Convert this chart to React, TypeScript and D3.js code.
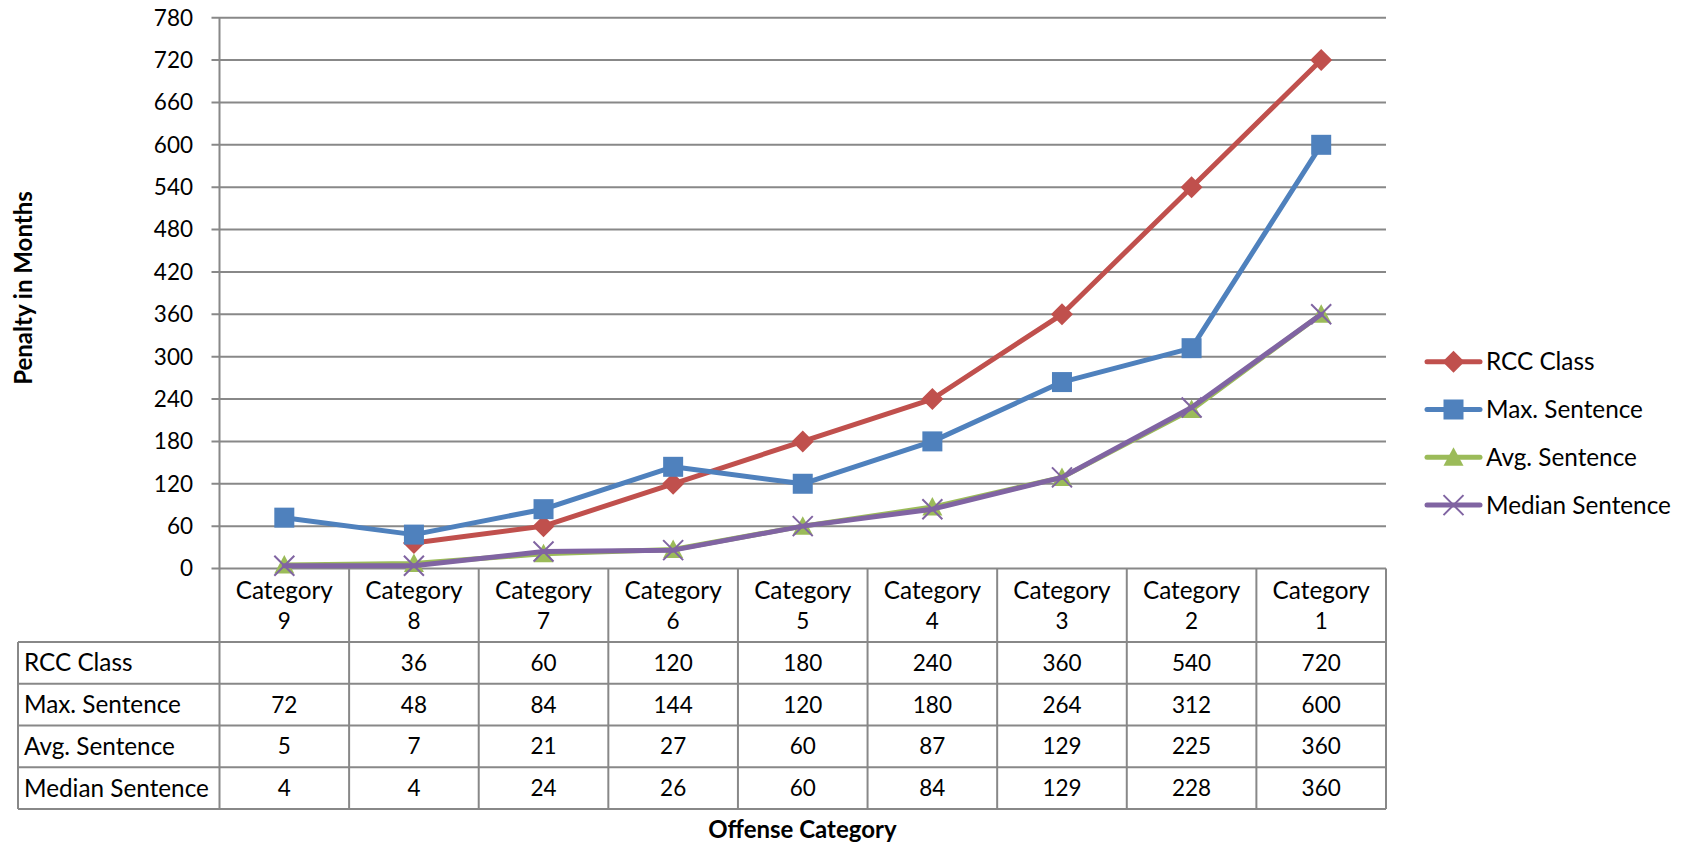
import React from "react";
import * as d3 from "d3";

// Offense categories, from least to most severe
const categories = ["9", "8", "7", "6", "5", "4", "3", "2", "1"];

// Penalties in months per category (null = no value)
const rccClass: (number | null)[] = [null, 36, 60, 120, 180, 240, 360, 540, 720];
const maxSentence: (number | null)[] = [72, 48, 84, 144, 120, 180, 264, 312, 600];
const avgSentence: (number | null)[] = [5, 7, 21, 27, 60, 87, 129, 225, 360];
const medianSentence: (number | null)[] = [4, 4, 24, 26, 60, 84, 129, 228, 360];

const yTicks = [0, 60, 120, 180, 240, 300, 360, 420, 480, 540, 600, 660, 720, 780];

type Marker = "diamond" | "square" | "triangle" | "x";
const series: { name: string; values: (number | null)[]; color: string; marker: Marker }[] = [
  { name: "RCC Class", values: rccClass, color: "#C0504D", marker: "diamond" },
  { name: "Max. Sentence", values: maxSentence, color: "#4F81BD", marker: "square" },
  { name: "Avg. Sentence", values: avgSentence, color: "#9BBB59", marker: "triangle" },
  { name: "Median Sentence", values: medianSentence, color: "#8064A2", marker: "x" },
];

const W = 1688;
const H = 847;
const FONT = "Lato, 'Open Sans', sans-serif";
const GRID = "#888888";
const NUM_SIZE = 22.5;
const WORD_SIZE = 24.3;
const TITLE_SIZE = 24;

const plotLeft = 219.5;
const plotRight = 1386;
const plotTop = 17.7;
const plotBottom = 568.5;
const tableLeft = 18;
const headerBottom = 642;
const rowH = 41.75;

function MarkerShape({ type, cx, cy, color }: { type: Marker; cx: number; cy: number; color: string }) {
  const s = 10;
  if (type === "diamond") {
    return <path d={`M${cx},${cy - s - 1}L${cx + s + 1},${cy}L${cx},${cy + s + 1}L${cx - s - 1},${cy}Z`} fill={color} />;
  }
  if (type === "square") {
    return <rect x={cx - s} y={cy - s} width={2 * s} height={2 * s} fill={color} />;
  }
  if (type === "triangle") {
    return <path d={`M${cx},${cy - s}L${cx + s},${cy + s * 0.85}L${cx - s},${cy + s * 0.85}Z`} fill={color} />;
  }
  return (
    <path
      d={`M${cx - s},${cy - s}L${cx + s},${cy + s}M${cx - s},${cy + s}L${cx + s},${cy - s}`}
      stroke={color}
      strokeWidth={2}
      fill="none"
    />
  );
}

export default function App() {
  const x = d3.scaleBand<string>().domain(categories).range([plotLeft, plotRight]);
  const y = d3.scaleLinear().domain([0, 780]).range([plotBottom, plotTop]);
  const cx = (c: string) => (x(c) as number) + x.bandwidth() / 2;

  const line = d3
    .line<number | null>()
    .defined((d) => d != null)
    .x((_, i) => cx(categories[i]))
    .y((d) => y(d as number));

  const rowTops = series.map((_, i) => headerBottom + i * rowH);
  const tableBottom = headerBottom + series.length * rowH;

  return (
    <svg
      width={W}
      height={H}
      viewBox={`0 0 ${W} ${H}`}
      style={{ position: "absolute", left: 0, top: 0, display: "block", background: "#fff" }}
      fontFamily={FONT}
    >
      {/* horizontal gridlines and y tick labels */}
      {yTicks.map((t) => (
        <g key={t}>
          <line x1={plotLeft - 8} x2={plotRight} y1={y(t)} y2={y(t)} stroke={GRID} strokeWidth={2} />
          <text x={193} y={y(t)} dy="0.35em" textAnchor="end" fontSize={NUM_SIZE} fill="#000">
            {t}
          </text>
        </g>
      ))}

      {/* y axis */}
      <line x1={plotLeft} x2={plotLeft} y1={plotTop} y2={tableBottom} stroke={GRID} strokeWidth={2} />

      {/* data table grid */}
      {categories.map((c) => (
        <line
          key={c}
          x1={(x(c) as number) + x.bandwidth()}
          x2={(x(c) as number) + x.bandwidth()}
          y1={plotBottom}
          y2={tableBottom}
          stroke={GRID}
          strokeWidth={2}
        />
      ))}
      {[...rowTops, tableBottom].map((ry, i) => (
        <line key={i} x1={tableLeft} x2={plotRight} y1={ry} y2={ry} stroke={GRID} strokeWidth={2} />
      ))}
      <line x1={tableLeft} x2={tableLeft} y1={headerBottom} y2={tableBottom} stroke={GRID} strokeWidth={2} />

      {/* category headers */}
      {categories.map((c) => (
        <text key={c} x={cx(c)} textAnchor="middle" fill="#000">
          <tspan x={cx(c)} y={590} dy="0.35em" fontSize={WORD_SIZE}>Category</tspan>
          <tspan x={cx(c)} y={621.5} dy="0.35em" fontSize={NUM_SIZE}>{c}</tspan>
        </text>
      ))}

      {/* table rows */}
      {series.map((s, si) => (
        <g key={s.name}>
          <text x={24} y={rowTops[si] + rowH / 2} dy="0.35em" fontSize={WORD_SIZE} fill="#000">
            {s.name}
          </text>
          {s.values.map((v, i) =>
            v == null ? null : (
              <text
                key={i}
                x={cx(categories[i])}
                y={rowTops[si] + rowH / 2}
                dy="0.35em"
                textAnchor="middle"
                fontSize={NUM_SIZE}
                fill="#000"
              >
                {v}
              </text>
            )
          )}
        </g>
      ))}

      {/* series lines and markers */}
      {series.map((s) => (
        <g key={s.name}>
          <path d={line(s.values) || ""} fill="none" stroke={s.color} strokeWidth={5} strokeLinejoin="round" strokeLinecap="round" />
          {s.values.map((v, i) =>
            v == null ? null : <MarkerShape key={i} type={s.marker} cx={cx(categories[i])} cy={y(v)} color={s.color} />
          )}
        </g>
      ))}

      {/* legend */}
      {series.map((s, i) => {
        const ly = 361.7 + i * 47.8;
        return (
          <g key={s.name}>
            <line x1={1427} x2={1480} y1={ly} y2={ly} stroke={s.color} strokeWidth={5} strokeLinecap="round" />
            <MarkerShape type={s.marker} cx={1453.5} cy={ly} color={s.color} />
            <text x={1486} y={ly} dy="0.35em" fontSize={WORD_SIZE} fill="#000">
              {s.name}
            </text>
          </g>
        );
      })}

      {/* axis titles */}
      <text
        transform="translate(32,288) rotate(-90)"
        textAnchor="middle"
        fontSize={TITLE_SIZE}
        fontWeight="bold"
        fill="#000"
      >
        Penalty in Months
      </text>
      <text x={802.5} y={838} textAnchor="middle" fontSize={TITLE_SIZE} fontWeight="bold" fill="#000">
        Offense Category
      </text>
    </svg>
  );
}
